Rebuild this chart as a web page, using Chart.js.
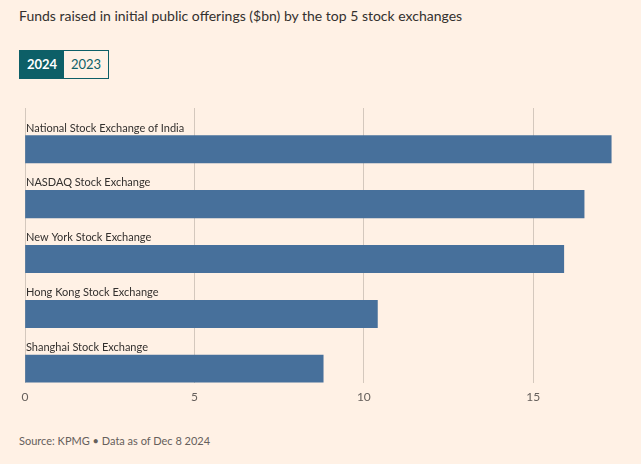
<!DOCTYPE html>
<html>
<head>
<meta charset="utf-8">
<script src="https://cdn.jsdelivr.net/npm/chart.js@4.4.1/dist/chart.umd.min.js"></script>
<style>
  body { margin: 0; background: #fff1e5; font-family: Lato, "Open Sans", sans-serif; width: 641px; height: 464px; overflow: hidden; position: relative; }
  .title { position: absolute; left: 19px; top: 7px; font-size: 14px; color: #33302e; }
  .toggle { position: absolute; left: 19px; top: 50px; display: flex; border: 1px solid #0d5f67; }
  .toggle div { width: 44px; height: 27px; line-height: 27px; text-align: center; font-size: 13px; color: #0d5f67; }
  .toggle .on { background: #0d5f67; color: #fff; font-weight: bold; }
  .wrap { position: absolute; left: 0; top: 98px; width: 641px; height: 315px; }
  .source { position: absolute; left: 19px; top: 434px; font-size: 11px; color: #66605c; }
</style>
</head>
<body>
<div class="title">Funds raised in initial public offerings ($bn) by the top 5 stock exchanges</div>
<div class="toggle"><div class="on">2024</div><div>2023</div></div>
<div class="wrap"><canvas id="chart"></canvas></div>
<div class="source">Source: KPMG • Data as of Dec 8 2024</div>
<script>
const exchanges = [
  "National Stock Exchange of India",
  "NASDAQ Stock Exchange",
  "New York Stock Exchange",
  "Hong Kong Stock Exchange",
  "Shanghai Stock Exchange"
];
const funds2024 = [17.3, 16.5, 15.9, 10.4, 8.8];
const xTicks = [0, 5, 10, 15];

// draws the exchange name above each bar
const barLabels = {
  id: "barLabels",
  afterDatasetsDraw(chart) {
    const ctx = chart.ctx;
    const meta = chart.getDatasetMeta(1);
    const x0 = chart.scales.x.getPixelForValue(0);
    ctx.save();
    ctx.font = "11px Lato, 'Open Sans', sans-serif";
    ctx.fillStyle = "#33302e";
    ctx.textBaseline = "bottom";
    meta.data.forEach((bar, i) => {
      const top = bar.y - bar.height / 2;
      ctx.fillText(exchanges[i], x0 + 1, top - 2);
    });
    ctx.restore();
  }
};

new Chart(document.getElementById("chart"), {
  type: "bar",
  data: {
    labels: exchanges,
    datasets: [
      { data: exchanges.map(() => null), backgroundColor: "transparent" },
      { data: funds2024, backgroundColor: "#47709b" }
    ]
  },
  options: {
    indexAxis: "y",
    responsive: true,
    maintainAspectRatio: false,
    animation: false,
    datasets: { bar: { categoryPercentage: 1, barPercentage: 1 } },
    layout: { padding: { left: 25, right: 23, top: 10, bottom: 2 } },
    plugins: { legend: { display: false }, tooltip: { enabled: false } },
    scales: {
      x: {
        min: 0,
        max: 17.5,
        afterBuildTicks: (scale) => {
          scale.ticks = xTicks.map((v) => ({ value: v }));
        },
        grid: { color: "#d4c8bd", drawTicks: false },
        border: { display: false },
        ticks: { color: "#66605c", font: { size: 12, family: "Lato, 'Open Sans', sans-serif" }, padding: 7 }
      },
      y: {
        display: false
      }
    }
  },
  plugins: [barLabels]
});
</script>
</body>
</html>
